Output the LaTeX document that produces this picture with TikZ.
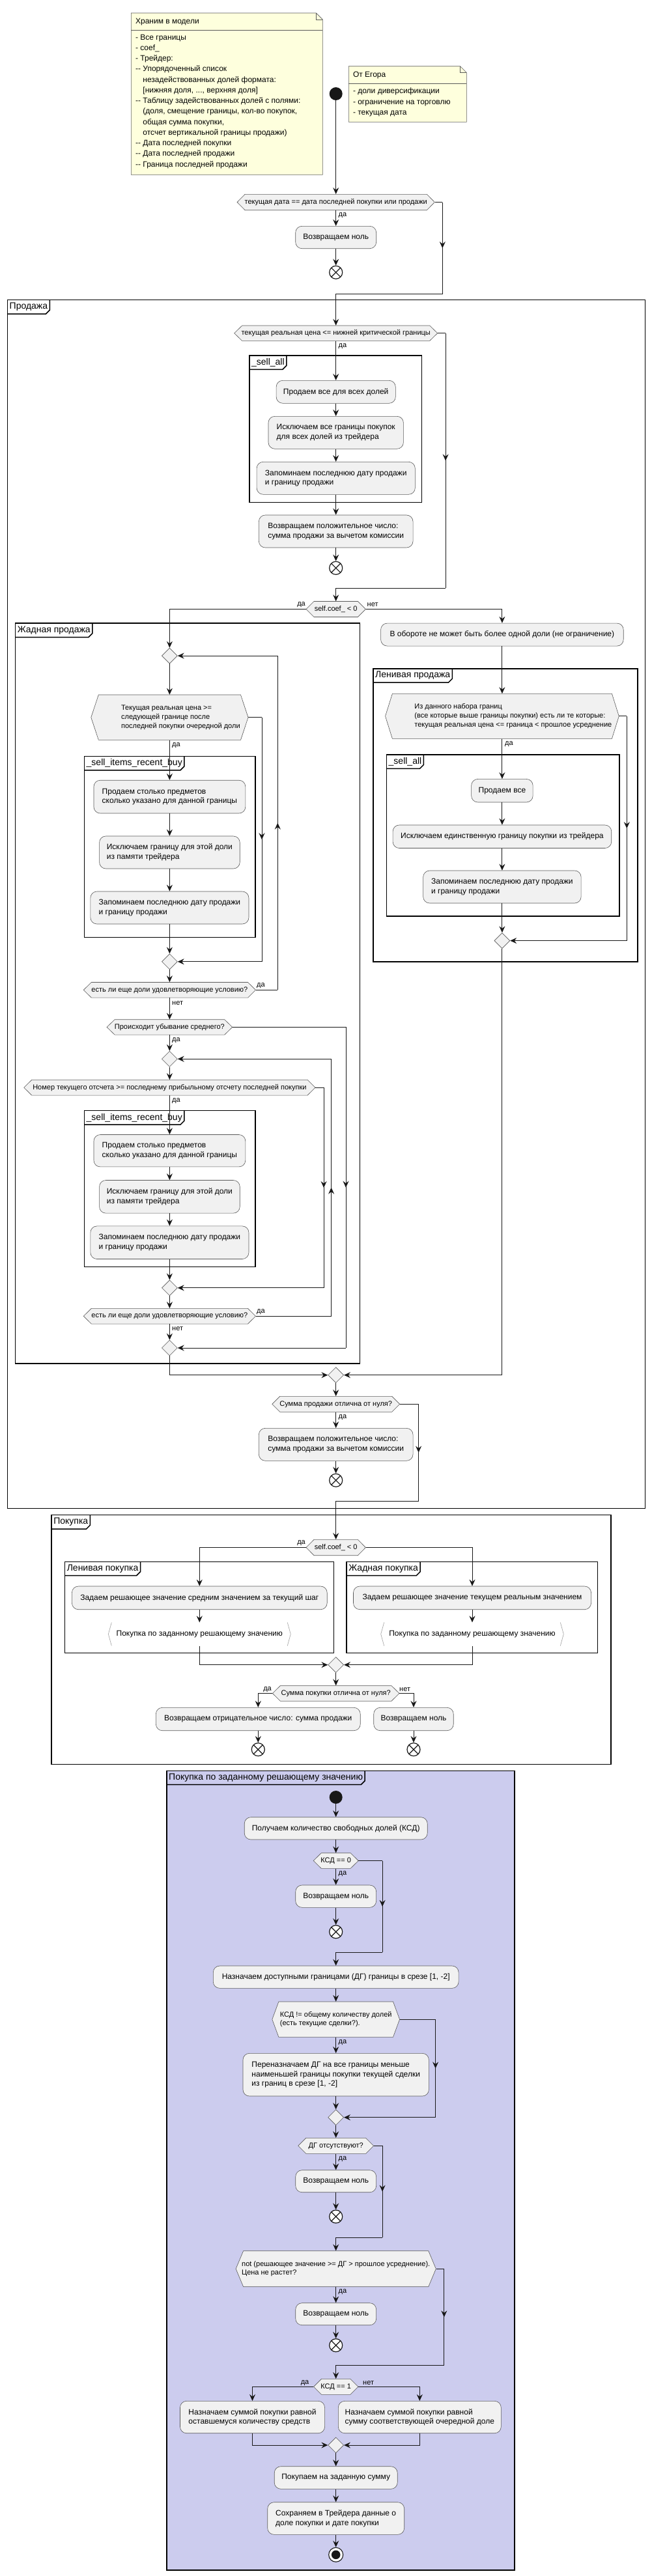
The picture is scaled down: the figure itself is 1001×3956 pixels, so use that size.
\documentclass[tikz,border=0pt]{standalone}
\usepackage{fontspec}
\setmainfont{Liberation Sans}
\usetikzlibrary{arrows.meta,shapes.geometric,decorations.markings}
\definecolor{actfill}{HTML}{F1F1F1}
\definecolor{actborder}{HTML}{5A5A5A}
\definecolor{lineclr}{HTML}{181818}
\definecolor{notefill}{HTML}{FEFFDD}
\definecolor{notebord}{HTML}{5A5A5A}
\definecolor{lavfill}{HTML}{CCCCEE}
\definecolor{callbord}{HTML}{AAAAAA}
\newcommand\ddash{-\kern0pt-}
\newcommand\hexd[7]{%
  \filldraw[decshape] (#2-#4,#3) -- (#2-#4+#6,#3-#5) -- (#2+#4-#6,#3-#5) -- (#2+#4,#3) -- (#2+#4-#6,#3+#5) -- (#2-#4+#6,#3+#5) -- cycle;
  \node[dectext, minimum width=2*#4, minimum height=2*#5] (#1) at (#2,#3) {#7};}
\newcommand\padlines[2]{\begin{tabular}{@{\hspace{#1}}l@{}}#2\end{tabular}}
\newcommand\tframe[6]{%
  \draw[frameline] (#2,#3) rectangle (#4,#5);
  \node[tablbl, anchor=north west] (#1) at (#2,#3) {#6};
  \draw[frameline] (#1.south west) -- ([xshift=-6pt]#1.south east) -- ([yshift=6pt]#1.south east) -- (#1.north east);}
\begin{document}
\begin{tikzpicture}[x=1pt,y=-1pt,
  act/.style={rectangle, rounded corners=10pt, draw=actborder, line width=0.6pt, fill=actfill,
    font=\fontsize{12}{14.5}\selectfont, align=left, inner sep=2pt},
  decshape/.style={draw=actborder, fill=actfill, line width=0.6pt},
  dectext/.style={rectangle, inner sep=0pt, font=\fontsize{11}{13.7}\selectfont, align=left},
  merge/.style={diamond, draw=actborder, fill=actfill, line width=0.6pt, minimum width=24pt, minimum height=24pt, inner sep=0pt},
  flow/.style={draw=lineclr, line width=0.9pt},
  arr/.style={flow, -{Stealth[length=10pt,width=9pt,inset=3.5pt]}},
  midarr/.style={flow, postaction={decorate}, decoration={markings, mark=at position 0.5 with {\arrow{Stealth[length=10pt,width=9pt,inset=3.5pt]}}}},
  lbl/.style={font=\fontsize{11}{13}\selectfont, inner sep=0.5pt},
  frameline/.style={draw=black, line width=1.5pt},
  tablbl/.style={font=\fontsize{14}{16}\selectfont, inner xsep=3pt, inner ysep=0pt, minimum height=21pt},
  startc/.style={circle, fill=lineclr, minimum size=20pt, inner sep=0pt},
  endx/.style={circle, draw=lineclr, line width=1.2pt, fill=white, minimum size=20pt, inner sep=0pt,
    path picture={\draw[line width=1.2pt, lineclr] ([shift={(-7pt,-7pt)}]path picture bounding box.center) -- ([shift={(7pt,7pt)}]path picture bounding box.center);
      \draw[line width=1.2pt, lineclr] ([shift={(-7pt,7pt)}]path picture bounding box.center) -- ([shift={(7pt,-7pt)}]path picture bounding box.center);}},
  finalc/.style={circle, draw=lineclr, line width=1.1pt, fill=white, minimum size=22pt, inner sep=0pt,
    path picture={\fill[lineclr] (path picture bounding box.center) circle (6.8pt);}},
  callbox/.style={rectangle, inner sep=0pt, font=\fontsize{12}{14.5}\selectfont},
  callbr/.style={draw=callbord, line width=0.7pt},
  notetxt/.style={font=\fontsize{12}{16.25}\selectfont, align=left, inner sep=0pt},
  notebox/.style={draw=notebord, fill=notefill, line width=0.6pt}
]
\useasboundingbox (0,0) rectangle (1001,3956);
\fill[white] (0,0) rectangle (1001,3956);

% ---------------- frames ----------------
\tframe{fSale}{11.5}{460.7}{990.4}{2316.7}{Продажа}
\tframe{fSA1}{382.9}{546}{647.7}{771.7}{\_sell\_all}
\tframe{fGreedy}{23.6}{957.1}{552.6}{2094}{Жадная продажа}
\tframe{fSIRB1}{129.5}{1161.4}{391.8}{1439.3}{\_sell\_items\_recent\_buy}
\tframe{fSIRB2}{129.5}{1705.7}{391.8}{1945.3}{\_sell\_items\_recent\_buy}
\tframe{fLazy}{573}{1026.8}{979}{1476.8}{Ленивая продажа}
\tframe{fSA2}{593.5}{1159}{950.9}{1407}{\_sell\_all}
\tframe{fBuy}{79.1}{2326.7}{938.1}{2709.3}{Покупка}
\tframe{fLB}{99.6}{2398.3}{512.4}{2538.3}{Ленивая покупка}
\tframe{fGB}{532.2}{2398.3}{917.7}{2538.3}{Жадная покупка}
\fill[lavfill] (256,2719.3) rectangle (790,3946.7);
\tframe{fProc}{256}{2719.3}{790}{3946.7}{Покупка по заданному решающему значению}

% ---------------- notes ----------------
\draw[notebox] (201.4,20) -- (485.4,20) -- (495.4,30) -- (495.4,268.3) -- (201.4,268.3) -- cycle;
\draw[notebord, line width=0.6pt] (485.4,20) -- (485.4,30) -- (495.4,30);
\draw[notebord, line width=0.6pt] (201.4,46) -- (495.4,46);
\node[notetxt, anchor=west] (n1h) at (207.9,33.3) {Храним в модели};
\node[notetxt, anchor=north west] (n1b) at (207.9,52.6) {- Все границы\\
- coef\_\\
- Трейдер:\\
\ddash{} Упорядоченный список\\
\phantom{\ddash{} }незадействованных долей формата:\\
\phantom{\ddash{} }[нижняя доля, ..., верхняя доля]\\
\ddash{} Таблицу задействованных долей с полями:\\
\phantom{\ddash{} }(доля, смещение границы, кол-во покупок,\\
\phantom{\ddash{} }общая сумма покупки,\\
\phantom{\ddash{} }отсчет вертикальной границы продажи)\\
\ddash{} Дата последней покупки\\
\ddash{} Дата последней продажи\\
\ddash{} Граница последней продажи};

\draw[notebox] (535.4,101.7) -- (706.4,101.7) -- (716.4,111.7) -- (716.4,187.3) -- (535.4,187.3) -- cycle;
\draw[notebord, line width=0.6pt] (706.4,101.7) -- (706.4,111.7) -- (716.4,111.7);
\draw[notebord, line width=0.6pt] (535.4,128.3) -- (716.4,128.3);
\node[notetxt, anchor=west] (n2h) at (541.8,116) {От Егора};
\node[notetxt, anchor=north west] (n2b) at (541.8,135) {- доли диверсификации\\
- ограничение на торговлю\\
- текущая дата};

% ---------------- top ----------------
\node[startc] (st1) at (515.7,144) {};
\hexd{d1}{515.7}{310.5}{151.6}{12.2}{12}{текущая дата == дата последней покупки или продажи}
\node[act, minimum width=124, minimum height=34.4] (a1) at (515.7,364.5) {Возвращаем ноль};
\node[endx] (e1) at (515.7,418.3) {};
\node[lbl, anchor=west] (l1) at (519,330.7) {да};
\draw[arr] (st1) -- (d1.north);
\draw[arr] (d1.south) -- (a1.north);
\draw[arr] (a1.south) -- (e1.north);
\coordinate (b1a) at (679.3,310.5);
\coordinate (b1b) at (679.3,451.7);
\draw[flow] (d1.east) -- (b1a);
\draw[midarr] (b1a) -- (b1b);

% ---------------- sale ----------------
\hexd{d2}{515.7}{511.7}{156}{11.7}{12}{текущая реальная цена <= нижней критической границы}
\draw[arr] (b1b) -| (d2.north);
\node[lbl, anchor=west] (l2) at (519,531.7) {да};
\node[act, minimum width=183.2, minimum height=35] (a2) at (515.7,601.8) {Продаем все для всех долей};
\node[act, minimum width=207.4, minimum height=50] (a3) at (515.7,664.3) {Исключаем все границы покупок\\для всех долей из трейдера};
\node[act, minimum width=243.2, minimum height=50] (a4) at (515.7,734.3) {Запоминаем последнюю дату продажи\\и границу продажи};
\node[act, minimum width=236.7, minimum height=50] (a5) at (515.7,816) {Возвращаем положительное число:\\сумма продажи за вычетом комиссии};
\node[endx] (e2) at (515.7,872.3) {};
\draw[arr] (d2.south) -- (a2.north);
\draw[arr] (a2.south) -- (a3.north);
\draw[arr] (a3.south) -- (a4.north);
\draw[arr] (a4.south) -- (a5.north);
\draw[arr] (a5.south) -- (e2.north);
\coordinate (b2a) at (684.1,511.7);
\coordinate (b2b) at (684.1,903.3);
\draw[flow] (d2.east) -- (b2a);
\draw[midarr] (b2a) -- (b2b);

\hexd{d3}{515.7}{935.5}{45.65}{12}{12}{self.coef\_ < 0}
\draw[arr] (b2b) -| (d3.north);
\node[lbl, anchor=east] (l3) at (469.5,929) {да};
\node[lbl, anchor=west] (l4) at (563,929) {нет};

% greedy sale (left column)
\node[merge] (m1) at (260.4,1007.1) {};
\draw[arr] (d3.west) -| (m1.north);
\hexd{d4}{260.4}{1101.7}{120.6}{34.7}{11.5}{\padlines{34pt}{Текущая реальная цена >=\\следующей границе после\\последней покупки очередной доли}}
\draw[arr] (m1.south) -- (d4.north);
\node[lbl, anchor=west] (l5) at (263.5,1145) {да};
\node[act, minimum width=232.9, minimum height=50.8] (a7) at (260.4,1223.6) {Продаем столько предметов\\сколько указано для данной границы};
\node[act, minimum width=215.7, minimum height=50] (a8) at (260.4,1309) {Исключаем границу для этой доли\\из памяти трейдера};
\node[act, minimum width=243.1, minimum height=50] (a9) at (260.4,1394) {Запоминаем последнюю дату продажи\\и границу продажи};
\node[merge] (m2) at (260.4,1476.8) {};
\draw[arr] (d4.south) -- (a7.north);
\draw[arr] (a7.south) -- (a8.north);
\draw[arr] (a8.south) -- (a9.north);
\draw[arr] (a9.south) -- (m2.north);
\coordinate (b4a) at (402,1101.7);
\coordinate (b4b) at (402,1476.8);
\draw[flow] (d4.east) -- (b4a);
\draw[midarr] (b4a) -- (b4b);
\draw[arr] (b4b) -- (m2.east);

\hexd{d5}{260.4}{1520.3}{132.1}{11.85}{12}{есть ли еще доли удовлетворяющие условию?}
\draw[arr] (m2.south) -- (d5.north);
\node[lbl, anchor=west] (l6) at (393.5,1514) {да};
\coordinate (b5a) at (426.3,1520.3);
\coordinate (b5b) at (426.3,1007.1);
\draw[flow] (d5.east) -- (b5a);
\draw[midarr] (b5a) -- (b5b);
\draw[arr] (b5b) -- (m1.east);
\node[lbl, anchor=west] (l7) at (263.5,1540.8) {нет};

\hexd{d6}{260.4}{1577.4}{96.35}{11.65}{12}{Происходит убывание среднего?}
\draw[arr] (d5.south) -- (d6.north);
\node[lbl, anchor=west] (l8) at (263.5,1597.4) {да};
\node[merge] (m3) at (260.4,1626.2) {};
\draw[arr] (d6.south) -- (m3.north);
\hexd{d7}{260.4}{1670.2}{223.65}{11.85}{12}{Номер текущего отсчета >= последнему прибыльному отсчету последней покупки}
\draw[arr] (m3.south) -- (d7.north);
\node[lbl, anchor=west] (l9) at (263.5,1690.3) {да};
\node[act, minimum width=232.9, minimum height=49.4] (a10) at (260.4,1767.2) {Продаем столько предметов\\сколько указано для данной границы};
\node[act, minimum width=215.7, minimum height=50.6] (a11) at (260.4,1837.8) {Исключаем границу для этой доли\\из памяти трейдера};
\node[act, minimum width=243.1, minimum height=50.6] (a12) at (260.4,1908.2) {Запоминаем последнюю дату продажи\\и границу продажи};
\node[merge] (m4) at (260.4,1977.8) {};
\draw[arr] (d7.south) -- (a10.north);
\draw[arr] (a10.south) -- (a11.north);
\draw[arr] (a11.south) -- (a12.north);
\draw[arr] (a12.south) -- (m4.north);
\coordinate (b7a) at (497.1,1670.2);
\coordinate (b7b) at (497.1,1977.8);
\draw[flow] (d7.east) -- (b7a);
\draw[midarr] (b7a) -- (b7b);
\draw[arr] (b7b) -- (m4.east);
\hexd{d8}{260.4}{2021.2}{132.1}{11.85}{12}{есть ли еще доли удовлетворяющие условию?}
\draw[arr] (m4.south) -- (d8.north);
\node[lbl, anchor=west] (l10) at (393.5,2015) {да};
\coordinate (b8a) at (508.6,2021.2);
\coordinate (b8b) at (508.6,1626.2);
\draw[flow] (d8.east) -- (b8a);
\draw[midarr] (b8a) -- (b8b);
\draw[arr] (b8b) -- (m3.east);
\node[lbl, anchor=west] (l11) at (263.5,2041) {нет};
\node[merge] (m5) at (260.4,2070) {};
\draw[arr] (d8.south) -- (m5.north);
\coordinate (b6a) at (531,1577.4);
\coordinate (b6b) at (531,2070);
\draw[flow] (d6.east) -- (b6a);
\draw[midarr] (b6a) -- (b6b);
\draw[arr] (b6b) -- (m5.east);

% lazy sale (right column)
\node[act, minimum width=372.6, minimum height=35] (a6) at (770.9,974.6) {В обороте не может быть более одной доли (не ограничение)};
\draw[arr] (d3.east) -| (a6.north);
\hexd{d9}{770.9}{1099.85}{179.35}{34.45}{10.8}{\padlines{34pt}{Из данного набора границ\\(все которые выше границы покупки) есть ли те которые:\\текущая реальная цена <= граница < прошлое усреднение}}
\draw[arr] (a6.south) -- (d9.north);
\node[lbl, anchor=west] (l12) at (774.5,1142.9) {да};
\node[act, minimum width=94.5, minimum height=35.6] (a13) at (770.9,1214.2) {Продаем все};
\node[act, minimum width=335.7, minimum height=35.5] (a14) at (770.9,1284.75) {Исключаем единственную границу покупки из трейдера};
\node[act, minimum width=242.5, minimum height=50] (a15) at (770.9,1362) {Запоминаем последнюю дату продажи\\и границу продажи};
\node[merge] (m6) at (770.9,1444.6) {};
\draw[arr] (d9.south) -- (a13.north);
\draw[arr] (a13.south) -- (a14.north);
\draw[arr] (a14.south) -- (a15.north);
\draw[arr] (a15.south) -- (m6.north);
\coordinate (b9a) at (962.3,1099.85);
\coordinate (b9b) at (962.3,1444.6);
\draw[flow] (d9.east) -- (b9a);
\draw[midarr] (b9a) -- (b9b);
\draw[arr] (b9b) -- (m6.east);

% join
\node[merge] (mb) at (515.7,2111.7) {};
\draw[arr] (m5.south) |- (mb.west);
\draw[arr] (m6.south) |- (mb.east);
\hexd{d10}{515.7}{2156.3}{97.95}{12}{12}{Сумма продажи отлична от нуля?}
\draw[arr] (mb.south) -- (d10.north);
\node[lbl, anchor=west] (l13) at (519,2176.7) {да};
\node[act, minimum width=236.7, minimum height=50] (a16) at (515.7,2218.3) {Возвращаем положительное число:\\сумма продажи за вычетом комиссии};
\node[endx] (e3) at (515.7,2273.3) {};
\draw[arr] (d10.south) -- (a16.north);
\draw[arr] (a16.south) -- (e3.north);
\coordinate (b10a) at (642.6,2156.3);
\coordinate (b10b) at (642.6,2305);
\draw[flow] (d10.east) -- (b10a);
\draw[midarr] (b10a) -- (b10b);

% ---------------- buy ----------------
\hexd{d11}{515.7}{2376.5}{45.65}{12.2}{12}{self.coef\_ < 0}
\draw[arr] (b10b) -| (d11.north);
\node[lbl, anchor=east] (l14) at (469.5,2370) {да};
\node[act, minimum width=391.8, minimum height=35.7] (a17) at (306.3,2453.85) {Задаем решающее значение средним значением за текущий шаг};
\node[act, minimum width=365.1, minimum height=35.7] (a18) at (725,2453.85) {Задаем решающее значение текущем реальным значением};
\draw[arr] (d11.west) -| (a17.north);
\draw[arr] (d11.east) -| (a18.north);
\node[callbox, minimum width=279.5, minimum height=35.6] (c1) at (306.3,2509.5) {Покупка по заданному решающему значению};
\node[callbox, minimum width=280.2, minimum height=35.6] (c2) at (725,2509.5) {Покупка по заданному решающему значению};
\draw[callbr] ([xshift=5pt]c1.north west) -- (c1.west) -- ([xshift=5pt]c1.south west);
\draw[callbr] ([xshift=-5pt]c1.north east) -- (c1.east) -- ([xshift=-5pt]c1.south east);
\draw[callbr] ([xshift=5pt]c2.north west) -- (c2.west) -- ([xshift=5pt]c2.south west);
\draw[callbr] ([xshift=-5pt]c2.north east) -- (c2.east) -- ([xshift=-5pt]c2.south east);
\draw[arr] (a17.south) -- (c1.north);
\draw[arr] (a18.south) -- (c2.north);
\node[merge] (mp) at (515.7,2556.7) {};
\draw[arr] (c1.south) |- (mp.west);
\draw[arr] (c2.south) |- (mp.east);
\hexd{d12}{515.7}{2600.5}{97.3}{11.8}{12}{Сумма покупки отлична от нуля?}
\draw[arr] (mp.south) -- (d12.north);
\node[lbl, anchor=east] (l15) at (417.5,2594.5) {да};
\node[lbl, anchor=west] (l16) at (612.5,2594.5) {нет};
\node[act, minimum width=313.9, minimum height=35.4] (a19) at (396.3,2640) {Возвращаем отрицательное число: сумма продажи};
\node[act, minimum width=122.5, minimum height=35.4] (a20) at (635,2640) {Возвращаем ноль};
\draw[arr] (d12.west) -| (a19.north);
\draw[arr] (d12.east) -| (a20.north);
\node[endx] (e4) at (396.3,2686.7) {};
\node[endx] (e5) at (635,2686.7) {};
\draw[arr] (a19.south) -- (e4.north);
\draw[arr] (a20.south) -- (e5.north);

% ---------------- purchase procedure ----------------
\node[startc] (st2) at (515.7,2760) {};
\node[act, minimum width=281, minimum height=34.3] (p1) at (515.7,2807.85) {Получаем количество свободных долей (КСД)};
\draw[arr] (st2) -- (p1.north);
\hexd{d13}{515.7}{2857.5}{34.5}{11.8}{12}{КСД == 0}
\draw[arr] (p1.south) -- (d13.north);
\node[lbl, anchor=west] (l17) at (519,2877.7) {да};
\node[act, minimum width=123.9, minimum height=34.3] (p2) at (515.7,2912.15) {Возвращаем ноль};
\node[endx] (e6) at (515.7,2966.7) {};
\draw[arr] (d13.south) -- (p2.north);
\draw[arr] (p2.south) -- (e6.north);
\coordinate (b13a) at (587.1,2857.5);
\coordinate (b13b) at (587.1,2998.3);
\draw[flow] (d13.east) -- (b13a);
\draw[midarr] (b13a) -- (b13b);
\node[act, minimum width=376.8, minimum height=34.3] (p3) at (515.7,3036.15) {Назначаем доступными границами (ДГ) границы в срезе [1, -2]};
\draw[arr] (b13b) -| (p3.north);
\hexd{d14}{515.7}{3101.15}{97.85}{27.15}{10}{КСД != общему количеству долей\\(есть текущие сделки?).}
\draw[arr] (p3.south) -- (d14.north);
\node[lbl, anchor=west] (l18) at (519,3136.7) {да};
\node[act, minimum width=285.4, minimum height=65.7] (p4) at (515.7,3186.15) {Переназначаем ДГ на все границы меньше\\наименьшей границы покупки текущей сделки\\из границ в срезе [1, -2]};
\draw[arr] (d14.south) -- (p4.north);
\node[merge] (m7) at (515.7,3251.7) {};
\draw[arr] (p4.south) -- (m7.north);
\coordinate (b14a) at (668.6,3101.15);
\coordinate (b14b) at (668.6,3251.7);
\draw[flow] (d14.east) -- (b14a);
\draw[midarr] (b14a) -- (b14b);
\draw[arr] (b14b) -- (m7.east);
\hexd{d15}{515.7}{3295.3}{57.9}{12}{12}{ДГ отсутствуют?}
\draw[arr] (m7.south) -- (d15.north);
\node[lbl, anchor=west] (l19) at (519,3316) {да};
\node[act, minimum width=123.9, minimum height=34] (p5) at (515.7,3349.7) {Возвращаем ноль};
\node[endx] (e7) at (515.7,3404) {};
\draw[arr] (d15.south) -- (p5.north);
\draw[arr] (p5.south) -- (e7.north);
\coordinate (b15a) at (587.1,3295.3);
\coordinate (b15b) at (587.1,3436);
\draw[flow] (d15.east) -- (b15a);
\draw[midarr] (b15a) -- (b15b);
\hexd{d16}{515.7}{3484.2}{153.6}{27.5}{11.5}{not (решающее значение >= ДГ > прошлое усреднение).\\Цена не растет?}
\draw[arr] (b15b) -| (d16.north);
\node[lbl, anchor=west] (l20) at (519,3519.3) {да};
\node[act, minimum width=123.9, minimum height=34] (p6) at (515.7,3553.7) {Возвращаем ноль};
\node[endx] (e8) at (515.7,3601.7) {};
\draw[arr] (d16.south) -- (p6.north);
\draw[arr] (p6.south) -- (e8.north);
\coordinate (b16a) at (681.8,3484.2);
\coordinate (b16b) at (681.8,3632.7);
\draw[flow] (d16.east) -- (b16a);
\draw[midarr] (b16a) -- (b16b);
\hexd{d17}{515.7}{3665.3}{34.15}{12}{12}{КСД == 1}
\draw[arr] (b16b) -| (d17.north);
\node[lbl, anchor=east] (l21) at (475,3659.5) {да};
\node[lbl, anchor=west] (l22) at (556.5,3659.5) {нет};
\node[act, minimum width=222.1, minimum height=49.4] (p7) at (387.5,3712) {Назначаем суммой покупки равной\\оставшемуся количеству средств};
\node[act, minimum width=250, minimum height=49.4] (p8) at (644.3,3712) {Назначаем суммой покупки равной\\сумму соответствующей очередной доле};
\draw[arr] (d17.west) -| (p7.north);
\draw[arr] (d17.east) -| (p8.north);
\node[merge] (m8) at (515.7,3755) {};
\draw[arr] (p7.south) |- (m8.west);
\draw[arr] (p8.south) |- (m8.east);
\node[act, minimum width=189, minimum height=34.6] (p9) at (515.7,3805) {Покупаем на заданную сумму};
\node[act, minimum width=210, minimum height=49.6] (p10) at (515.7,3867.5) {Сохраняем в Трейдера данные о\\доле покупки и дате покупки};
\node[finalc] (fe) at (515.7,3923.3) {};
\draw[arr] (m8.south) -- (p9.north);
\draw[arr] (p9.south) -- (p10.north);
\draw[arr] (p10.south) -- (fe.north);
\end{tikzpicture}
\end{document}
